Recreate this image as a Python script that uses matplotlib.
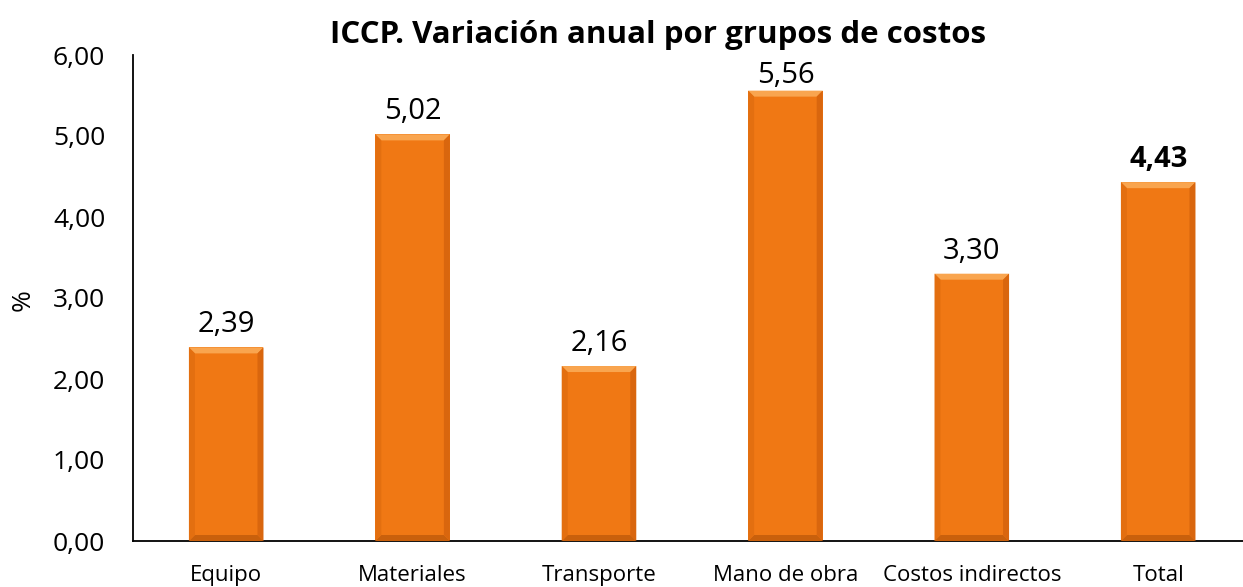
import matplotlib
matplotlib.use("Agg")
import matplotlib.pyplot as plt
from matplotlib.patches import Polygon
from matplotlib.transforms import IdentityTransform

plt.rcParams['font.family'] = ['Open Sans', 'DejaVu Sans']

categories = ["Equipo", "Materiales", "Transporte", "Mano de obra",
              "Costos indirectos", "Total"]
values = [2.39, 5.02, 2.16, 5.56, 3.30, 4.43]
yticks = [0, 1, 2, 3, 4, 5, 6]

bar_color = "#F07814"
light = "#F9A54F"
dark = "#C9600C"

W, H = 1243, 587
fig = plt.figure(figsize=(W / 100, H / 100), dpi=100)
ax = fig.add_axes([133 / W, 1 - 541 / H, 1 - 133 / W, (541 - 55) / H])

x = range(len(categories))
bars = ax.bar(x, values, width=0.4, color=bar_color, zorder=2)

ax.set_xlim(-0.5, 5.455)
ax.set_ylim(0, 6)
ax.set_yticks(yticks)
ax.set_yticklabels([f"{v:.2f}".replace(".", ",") for v in yticks], fontsize=19)
ax.set_xticks(list(x))
ax.set_xticklabels(categories, fontsize=16)
ax.tick_params(axis='y', length=0, pad=20)
ax.tick_params(axis='x', length=0, pad=17)

for side in ("top", "right"):
    ax.spines[side].set_visible(False)
for side in ("left", "bottom"):
    ax.spines[side].set_linewidth(1.3)
    ax.spines[side].set_zorder(3)

fig.text(23 / W, 1 - 300 / H, "%", fontsize=19, rotation=90,
         ha="center", va="center")
fig.text(658 / W, 1 - 43 / H, "ICCP. Variación anual por grupos de costos",
         fontsize=22.5, fontweight="bold", ha="center", va="baseline")

fig.canvas.draw()

# value labels: baseline ~15 px above the bar, pushed down under the title
for i, (b, v) in enumerate(zip(bars, values)):
    weight = "bold" if categories[i] == "Total" else "normal"
    ext = b.get_window_extent()
    base = min(ext.y1 + 15, H - 83)
    fig.text((ext.x0 + ext.x1) / 2 / W, base / H, f"{v:.2f}".replace(".", ","),
             ha="center", va="baseline", fontsize=21, fontweight=weight)

# bevel edges, built from each bar's drawn extent
bv = 6
for b in bars:
    ext = b.get_window_extent()
    x0, y0, x1, y1 = ext.x0, ext.y0, ext.x1, ext.y1
    faces = [
        ([(x0, y1), (x1, y1), (x1 - bv, y1 - bv), (x0 + bv, y1 - bv)], light),
        ([(x0, y0), (x1, y0), (x1 - bv, y0 + bv), (x0 + bv, y0 + bv)], dark),
        ([(x0, y0), (x0, y1), (x0 + bv, y1 - bv), (x0 + bv, y0 + bv)], "#E36F10"),
        ([(x1, y0), (x1, y1), (x1 - bv, y1 - bv), (x1 - bv, y0 + bv)], "#D9660E"),
    ]
    for pts, c in faces:
        fig.add_artist(Polygon(pts, closed=True, facecolor=c, edgecolor="none",
                               transform=IdentityTransform(), zorder=2.5))

fig.savefig("out.png", dpi=100)
